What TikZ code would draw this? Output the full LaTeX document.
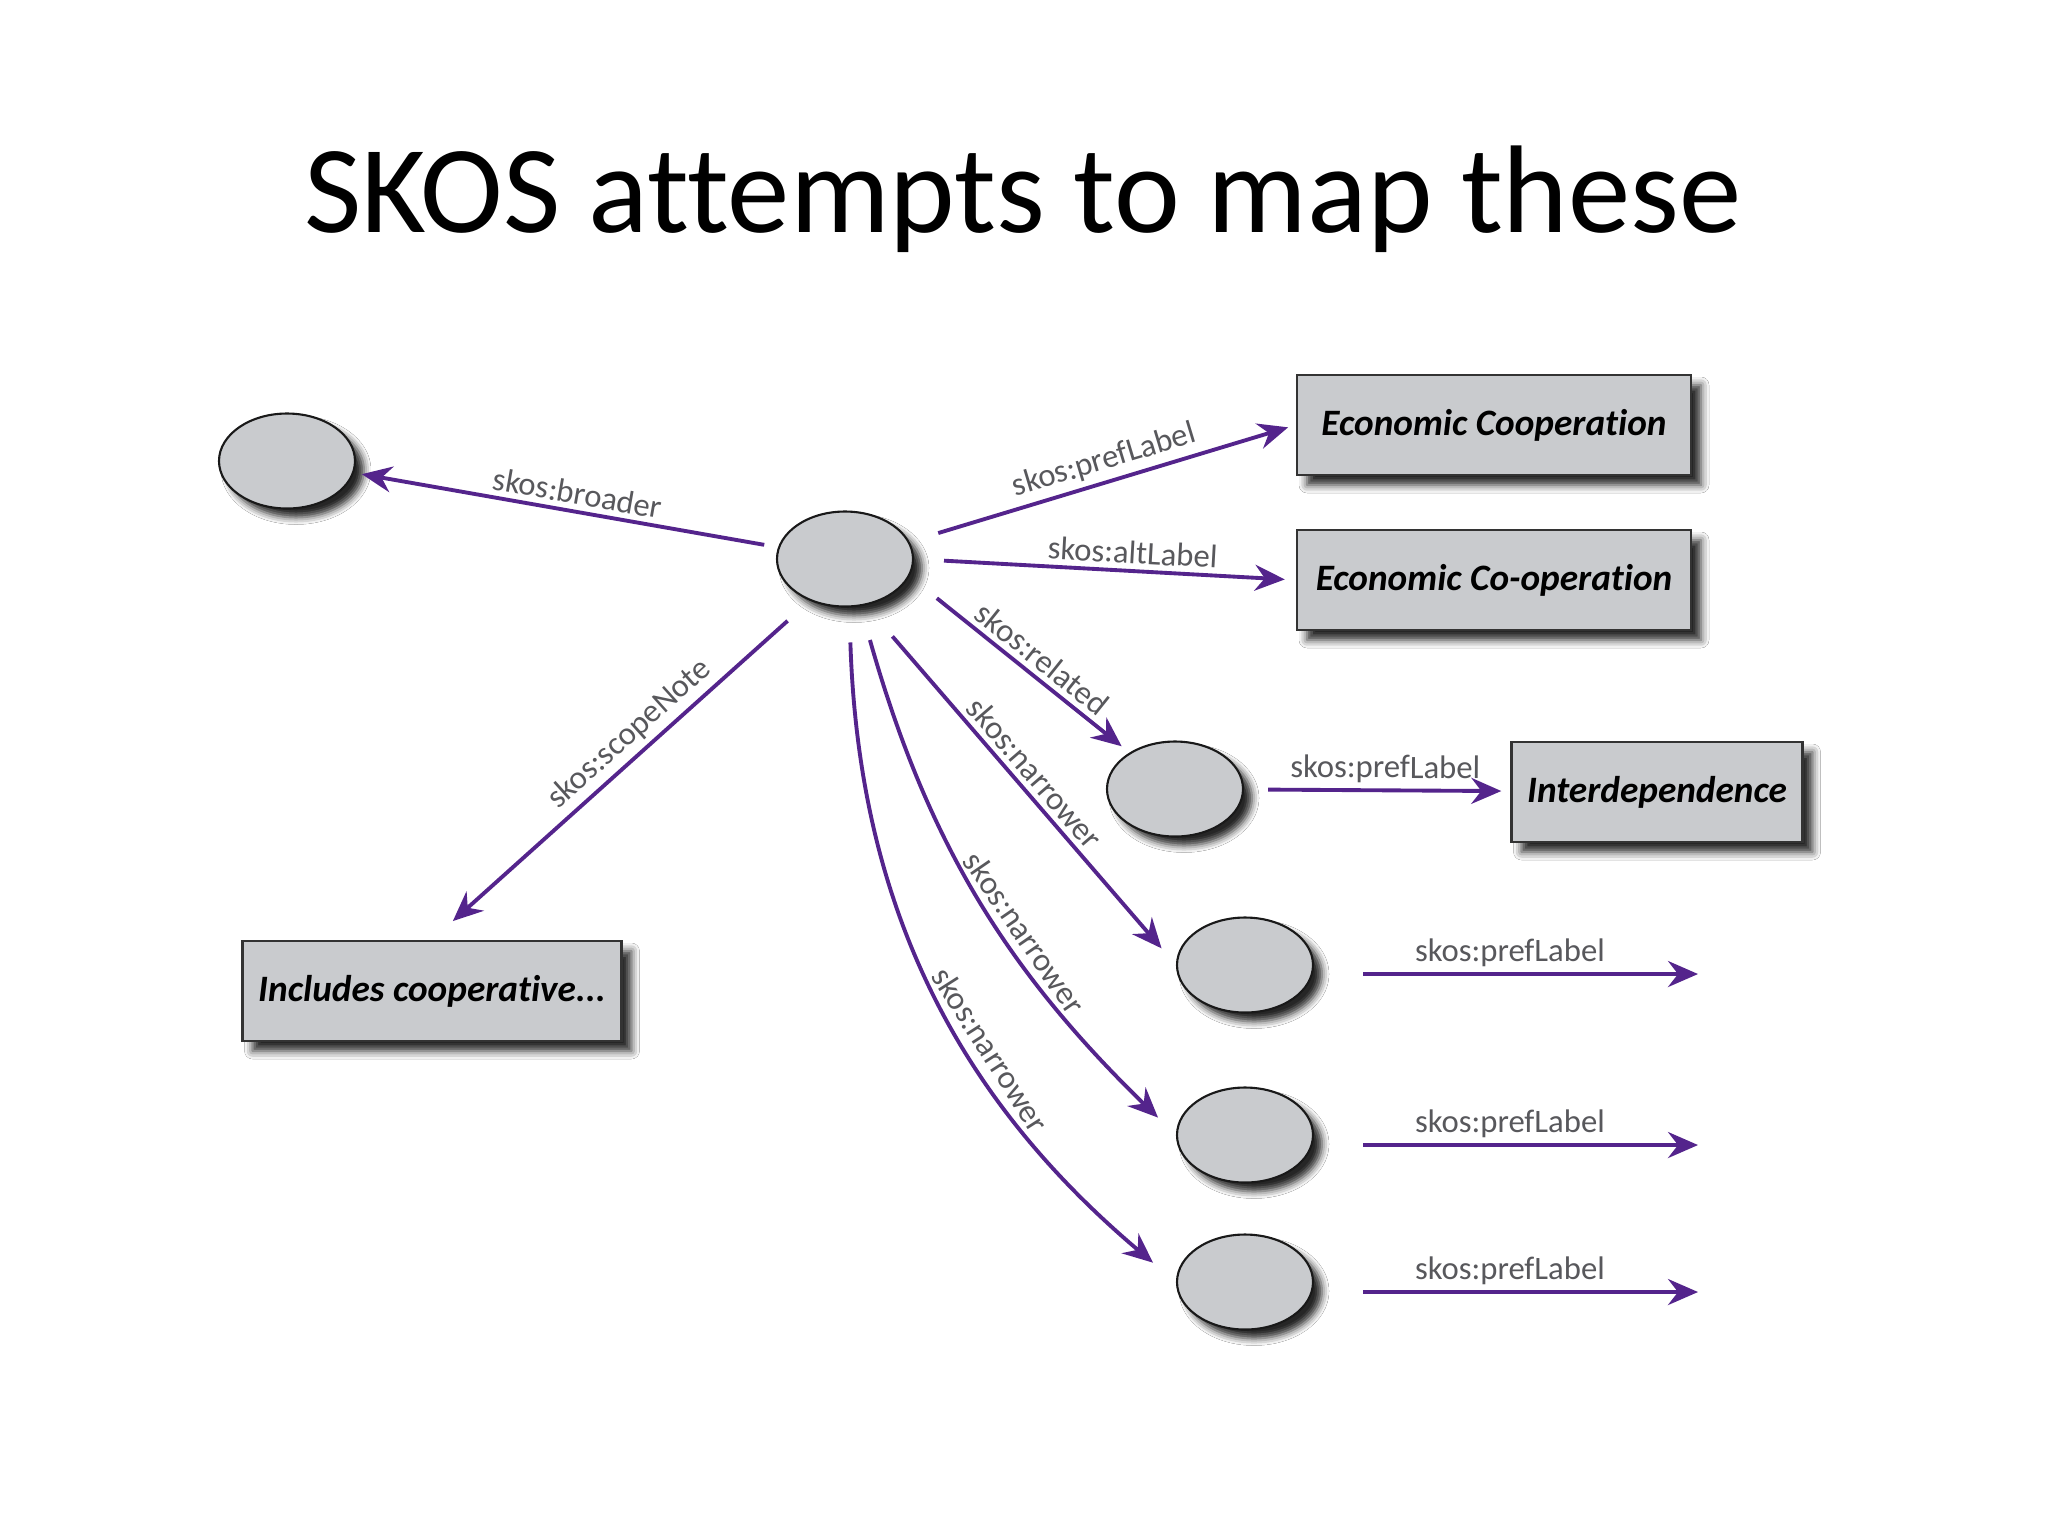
\documentclass[tikz,border=0pt]{standalone}
\usepackage{fontspec}
\setmainfont{Carlito}[Ligatures=NoCommon]
\usetikzlibrary{shapes.geometric,arrows.meta,shadows.blur}
\definecolor{skospurple}{RGB}{84,36,140}
\definecolor{nodegray}{RGB}{201,203,206}
\definecolor{labelgray}{RGB}{88,88,92}
\begin{document}
\begin{tikzpicture}[
  x=0.1mm, y=-0.1mm,
  concept/.style={ellipse,draw=black!90,line width=0.6pt,fill=nodegray,minimum width=13.6mm,minimum height=9.5mm,
    blur shadow={shadow xshift=0.9mm,shadow yshift=-0.9mm,shadow blur radius=0.7mm,shadow opacity=85}},
  literal/.style={rectangle,draw=black!80,line width=0.7pt,fill=nodegray,minimum height=10mm,inner sep=0pt,
    font=\fontsize{10.6}{12}\selectfont\bfseries\itshape,
    blur shadow={shadow xshift=1mm,shadow yshift=-1mm,shadow blur radius=0.8mm,shadow opacity=85}},
  prop/.style={draw=skospurple,line width=1.1pt,-{Stealth[length=3mm,width=2.6mm,inset=1mm]}},
  lbl/.style={font=\fontsize{9.3}{11}\selectfont,text=labelgray,sloped,above,inner sep=1.5pt}
]
\path[use as bounding box,fill=white] (0,0) rectangle (2048,1536);
% title
\node[font=\fontsize{35.5}{40}\selectfont,anchor=base] (title) at (1023,232) {SKOS attempts to map these};
% concepts
\node[concept] (broad) at (287,461) {};
\node[concept] (center) at (845,559) {};
\node[concept] (related) at (1175,789) {};
\node[concept] (nar1) at (1245,965) {};
\node[concept] (nar2) at (1245,1135) {};
\node[concept] (nar3) at (1245,1282) {};
% literals
\node[literal,minimum width=39.4mm] (pref) at (1494,425) {Economic Cooperation};
\node[literal,minimum width=39.4mm] (alt) at (1494,580) {Economic Co-operation};
\node[literal,minimum width=29.1mm] (interdep) at (1657,792) {Interdependence};
\node[literal,minimum width=37.9mm] (note) at (432,991) {Includes cooperative...};
% free ends
\coordinate (end1) at (1698,974);
\coordinate (end2) at (1698,1145);
\coordinate (end3) at (1698,1292);
% properties of the central concept
\draw[prop,shorten <=1.4mm,shorten >=0.8mm] (center) -- (broad) node[lbl,pos=0.48] {skos:broader};
\draw[prop,shorten <=3mm,shorten >=0.8mm] (center.15) -- (pref.west) node[lbl,pos=0.52] {skos:prefLabel};
\draw[prop,shorten <=3mm,shorten >=1.1mm] (center.east) -- (alt.west) node[lbl,pos=0.57] {skos:altLabel};
\draw[prop,shorten <=3.5mm,shorten >=1mm] (center.-15) -- (related) node[lbl,pos=0.55] {skos:related};
\draw[prop,shorten <=3mm,shorten >=2.8mm] (center.-130) -- (note.north) node[lbl,pos=0.44] {skos:scopeNote};
\draw[prop,shorten <=4.1mm,shorten >=2.2mm] (center.-66) -- (nar1.west) node[lbl,pos=0.5] {skos:narrower};
\draw[prop,shorten <=3.5mm,shorten >=2.5mm] (center.-72) to[bend right=15] node[lbl,pos=0.6] {skos:narrower} (nar2.west);
\draw[prop,shorten <=3.5mm,shorten >=3mm] (center.-85) to[bend right=24] node[lbl,pos=0.62] {skos:narrower} (nar3.west);
% labels of the other concepts
\draw[prop,shorten <=2.4mm,shorten >=0.9mm] (related) -- (interdep) node[lbl,pos=0.53] {skos:prefLabel};
\draw[prop,shorten <=4.9mm] (nar1.east |- end1) -- (end1) node[lbl,pos=0.51] {skos:prefLabel};
\draw[prop,shorten <=4.9mm] (nar2.east |- end2) -- (end2) node[lbl,pos=0.51] {skos:prefLabel};
\draw[prop,shorten <=4.9mm] (nar3.east |- end3) -- (end3) node[lbl,pos=0.51] {skos:prefLabel};
\end{tikzpicture}
\end{document}
